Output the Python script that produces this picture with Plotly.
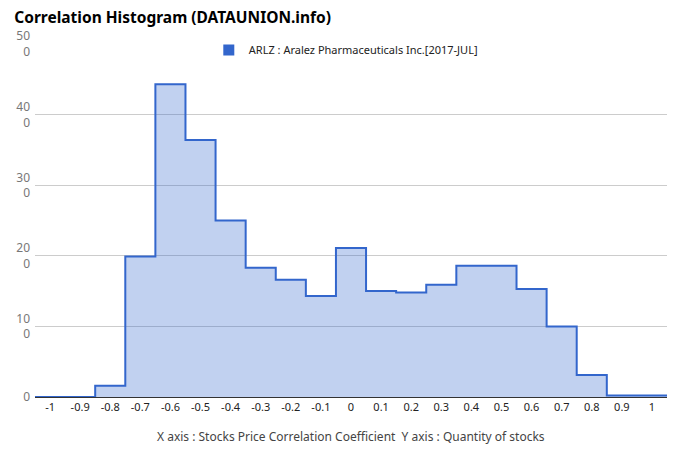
import plotly.graph_objects as go

# Data
categories = [-1.0, -0.9, -0.8, -0.7, -0.6, -0.5, -0.4, -0.3, -0.2, -0.1,
              0.0, 0.1, 0.2, 0.3, 0.4, 0.5, 0.6, 0.7, 0.8, 0.9, 1.0]
counts = [0, 0, 16, 199, 443, 364, 250, 183, 166, 143,
          211, 150, 148, 159, 186, 186, 153, 100, 31, 2, 2]
x_tick_labels = ["-1", "-0.9", "-0.8", "-0.7", "-0.6", "-0.5", "-0.4", "-0.3", "-0.2", "-0.1",
                 "0", "0.1", "0.2", "0.3", "0.4", "0.5", "0.6", "0.7", "0.8", "0.9", "1"]
y_tick_vals = [0, 100, 200, 300, 400, 500]
y_tick_labels = ["0", "10<br>0", "20<br>0", "30<br>0", "40<br>0", "50<br>0"]
series_name = "ARLZ : Aralez Pharmaceuticals Inc.[2017-JUL]"

half = 0.05
edges = [c - half for c in categories] + [categories[-1] + half]
step_vals = counts + [counts[-1]]

fig = go.Figure()
fig.add_trace(go.Scatter(
    x=edges, y=step_vals, mode="lines", line=dict(shape="hv", color="#3366cc", width=2),
    fill="tozeroy", fillcolor="rgba(51,102,204,0.3)", showlegend=False, hoverinfo="skip"))
fig.add_trace(go.Scatter(
    x=[None], y=[None], mode="markers", name=series_name,
    marker=dict(symbol="square", size=11, color="#3366cc")))

fig.update_layout(
    width=680, height=462,
    margin=dict(l=35, r=13, t=44, b=65, autoexpand=False),
    paper_bgcolor="white", plot_bgcolor="white",
    font=dict(family="Noto Sans, Open Sans, sans-serif", size=11, color="#222"),
    title=dict(text="<b>Correlation Histogram (DATAUNION.info)</b>", x=0.021, xanchor="left",
               y=0.962, yanchor="middle", font=dict(size=15.5, color="#000")),
    showlegend=True,
    legend=dict(x=0.275, xanchor="left", y=0.983, yanchor="middle", orientation="h",
                font=dict(size=11, color="#222"), bgcolor="rgba(0,0,0,0)",
                itemwidth=30, tracegroupgap=0),
    xaxis=dict(range=[-1.05, 1.05], tickvals=categories, ticktext=x_tick_labels,
               showgrid=False, zeroline=False, showline=True, linecolor="#333", linewidth=1,
               ticks="", tickfont=dict(size=11, color="#222"), fixedrange=True,
               automargin=False),
    yaxis=dict(range=[0, 500], tickvals=y_tick_vals, ticktext=y_tick_labels,
               showgrid=True, gridcolor="#cccccc", zeroline=False, showline=False,
               ticks="", ticklabelstandoff=4, tickfont=dict(size=12, color="#777"),
               fixedrange=True, automargin=False),
)
fig.add_annotation(
    text="X axis : Stocks Price Correlation Coefficient&nbsp;&nbsp;Y axis : Quantity of stocks",
    xref="paper", yref="paper", x=0.5, y=-0.113, xanchor="center", yanchor="middle",
    showarrow=False, font=dict(size=12, color="#444"))

fig.write_html("out.html", config={"displayModeBar": False},
               post_script="document.body.style.margin='0px';")
